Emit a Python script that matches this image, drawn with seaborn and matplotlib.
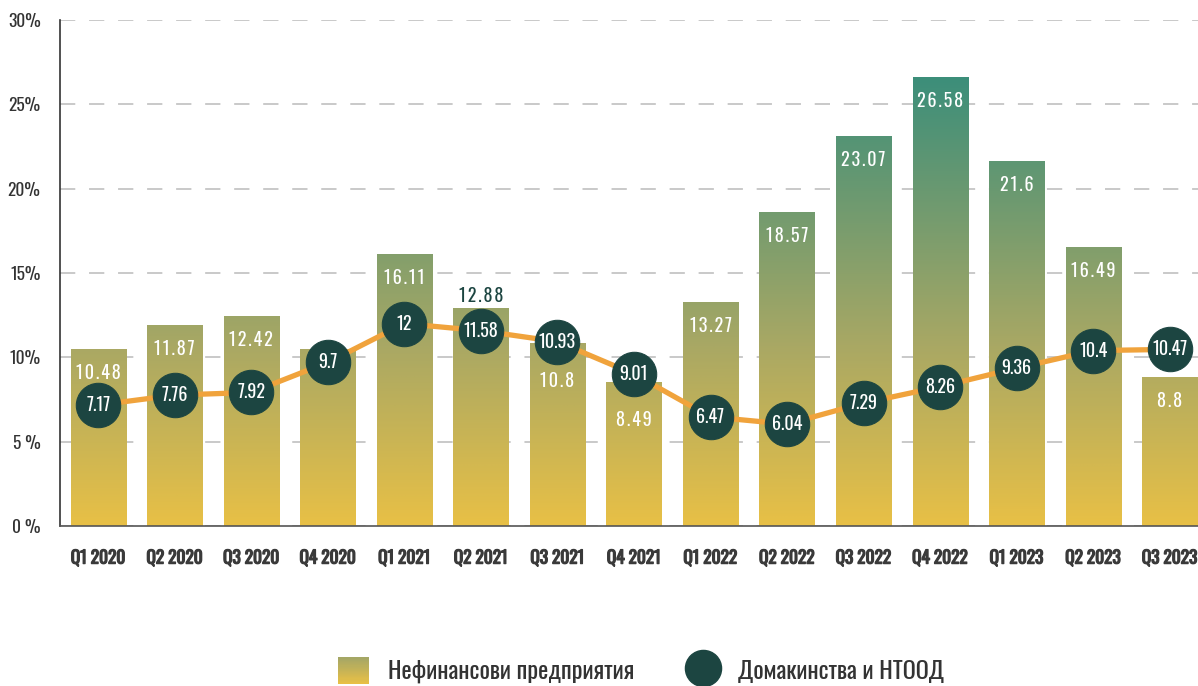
import numpy as np
import pandas as pd
import matplotlib
matplotlib.use("Agg")
import matplotlib.pyplot as plt
import matplotlib.patheffects as pe
import seaborn as sns
from matplotlib.colors import LinearSegmentedColormap
from matplotlib.patches import Rectangle
from matplotlib.lines import Line2D
from matplotlib.legend_handler import HandlerBase

# data
quarters = ["Q1 2020", "Q2 2020", "Q3 2020", "Q4 2020", "Q1 2021", "Q2 2021", "Q3 2021",
            "Q4 2021", "Q1 2022", "Q2 2022", "Q3 2022", "Q4 2022", "Q1 2023", "Q2 2023", "Q3 2023"]
non_financial = [10.48, 11.87, 12.42, 10.45, 16.11, 12.88, 10.8, 8.49,
                 13.27, 18.57, 23.07, 26.58, 21.6, 16.49, 8.8]
households = [7.17, 7.76, 7.92, 9.7, 12, 11.58, 10.93, 9.01,
              6.47, 6.04, 7.29, 8.26, 9.36, 10.4, 10.47]
y_ticks = [0, 5, 10, 15, 20, 25, 30]
y_tick_labels = ["0 %", "5 %", "10%", "15%", "20%", "25%", "30%"]
series_names = ["Нефинансови предприятия", "Домакинства и НТООД"]

df = pd.DataFrame({"quarter": quarters, "nfc": non_financial, "hh": households})

DARK = "#1C4541"
ORANGE = "#F0A33C"
grad = LinearSegmentedColormap.from_list(
    "grad", [(0, "#E8C046"), (0.4, "#A9A864"), (1, "#3C8E7A")])
GRAD_TOP = 26.6

sns.set_style("white")
plt.rcParams["font.family"] = ["Oswald", "Roboto Condensed", "DejaVu Sans"]

fig = plt.figure(figsize=(11.98, 6.86), dpi=100)
ax = fig.add_axes([60 / 1198, 1 - 526 / 686, (1198 - 60) / 1198, (526 - 20) / 686])

sns.barplot(data=df, x="quarter", y="nfc", width=0.72, color="#B8AE5A", ax=ax, zorder=2)

# swap flat bar colour for a vertical gradient (shared scale across all bars)
for p in ax.patches:
    x0, w, h = p.get_x(), p.get_width(), p.get_height()
    g = np.linspace(0, h / GRAD_TOP, 256).reshape(-1, 1)
    ax.imshow(g, cmap=grad, vmin=0, vmax=1, origin="lower", aspect="auto",
              extent=(x0, x0 + w, 0, h), zorder=2, interpolation="bilinear")
    p.set_visible(False)

xs = np.arange(len(quarters))
sns.lineplot(x=xs, y=df["hh"], ax=ax, color=ORANGE, lw=3.8, marker="o",
             markersize=32, markerfacecolor=DARK, markeredgecolor=DARK, zorder=4)

# bar value labels (the Q4 2020 one sits behind its circle in the original)
label_above = {"Q2 2021"}
label_below_marker = {"Q3 2021", "Q4 2021"}
label_hidden = {"Q4 2020"}
for i, (q, v) in enumerate(zip(quarters, non_financial)):
    if q in label_hidden:
        continue
    if q in label_above:
        off, col = 9, DARK
    elif q in label_below_marker:
        off, col = -27, "white"
    else:
        off, col = -17, "white"
    ax.annotate(" ".join(f"{v:g}").replace(" ", "\u200a"), (i, v), xytext=(0, off),
                textcoords="offset points", ha="center", va="center", color=col,
                fontsize=13, fontweight="light", zorder=3)

# household values inside circles
for i, v in enumerate(households):
    ax.text(i, v, f"{v:g}", ha="center", va="center", color="white",
            fontsize=13, zorder=5)

ax.set_xlim(-0.5, 14.37)
ax.set_ylim(0, 30)
ax.set_yticks(y_ticks)
ax.set_yticklabels(y_tick_labels, fontsize=12.5, color="#333333")
ax.set_xlabel("")
ax.set_ylabel("")
ax.tick_params(axis="x", length=0, pad=17, labelsize=12.5, labelcolor="#3A3A3A")
for t in ax.get_xticklabels():
    t.set_fontweight("bold")
    # Oswald only ships one weight here, so thicken the strokes a little
    t.set_path_effects([pe.withStroke(linewidth=0.9, foreground="#3A3A3A")])
ax.tick_params(axis="y", length=6, color="#777777", pad=8)

ax.grid(axis="y", color="#BBBBBB", lw=1.1, linestyle=(0, (10, 9)), zorder=0)
ax.set_axisbelow(True)
for s in ["top", "right"]:
    ax.spines[s].set_visible(False)
ax.spines["left"].set_color("#333333")
ax.spines["left"].set_linewidth(1.2)
ax.spines["bottom"].set_color("#555555")
ax.spines["bottom"].set_linewidth(1.2)


class GradientHandler(HandlerBase):
    def create_artists(self, legend, orig_handle, xdescent, ydescent,
                       width, height, fontsize, trans):
        n = 24
        arts = []
        for k in range(n):
            r = Rectangle((-xdescent, -ydescent + height * k / n), width, height / n + 0.3,
                          facecolor=grad(0.42 * k / (n - 1)), edgecolor="none",
                          transform=trans)
            arts.append(r)
        return arts


bar_handle = Rectangle((0, 0), 1, 1)
hh_handle = Line2D([], [], marker="o", ls="", markersize=26,
                   markerfacecolor=DARK, markeredgecolor=DARK)
leg = fig.legend([bar_handle, hh_handle], series_names, loc="center",
                 bbox_to_anchor=(0.535, 0.022), ncol=2, frameon=False,
                 prop={"size": 17.5, "weight": "light"},
                 handlelength=1.27, handleheight=1.27, handletextpad=0.8, columnspacing=2.2,
                 labelcolor="#333333", handler_map={Rectangle: GradientHandler()})

fig.savefig("out.png", dpi=100)
